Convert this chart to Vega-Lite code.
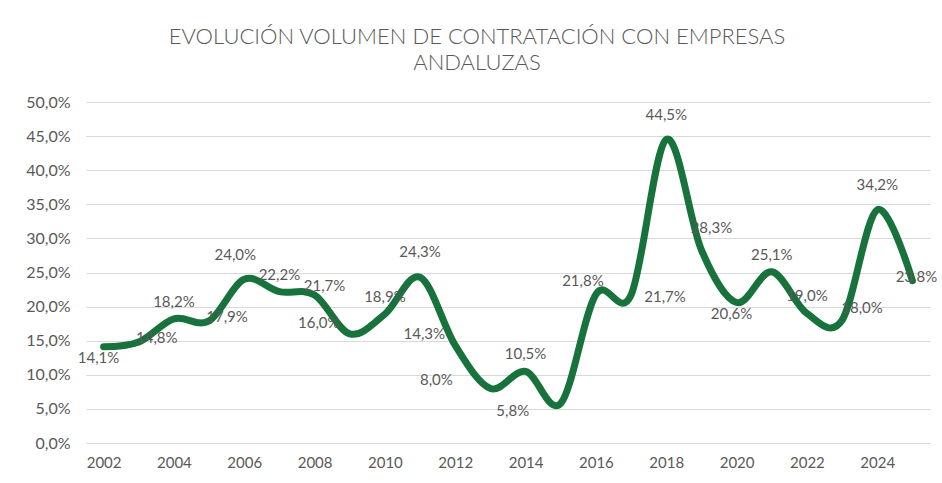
{
  "$schema": "https://vega.github.io/schema/vega-lite/v6.json",
  "width": 844,
  "height": 341,
  "autosize": {"type": "none"},
  "padding": {"left": 86, "top": 102, "right": 12, "bottom": 40},
  "background": "white",
  "config": {
    "locale": {"number": {"decimal": ",", "thousands": ".", "grouping": [3], "currency": ["", " €"]}},
    "view": {"stroke": null},
    "font": "Lato",
    "text": {"font": "Lato", "fontSize": 15, "color": "#595959", "align": "center", "baseline": "middle"}
  },
  "title": {
    "text": ["EVOLUCIÓN VOLUMEN DE CONTRATACIÓN CON EMPRESAS", "ANDALUZAS"],
    "font": "Lato",
    "fontSize": 22,
    "fontWeight": 300,
    "color": "#595959",
    "anchor": "middle",
    "dx": -31,
    "offset": 19,
    "lineHeight": 26
  },
  "data": {"values": [
    {"year": 2002, "value": 0.141},
    {"year": 2003, "value": 0.148},
    {"year": 2004, "value": 0.182},
    {"year": 2005, "value": 0.179},
    {"year": 2006, "value": 0.240},
    {"year": 2007, "value": 0.222},
    {"year": 2008, "value": 0.217},
    {"year": 2009, "value": 0.160},
    {"year": 2010, "value": 0.189},
    {"year": 2011, "value": 0.243},
    {"year": 2012, "value": 0.143},
    {"year": 2013, "value": 0.080},
    {"year": 2014, "value": 0.105},
    {"year": 2015, "value": 0.058},
    {"year": 2016, "value": 0.218},
    {"year": 2017, "value": 0.217},
    {"year": 2018, "value": 0.445},
    {"year": 2019, "value": 0.283},
    {"year": 2020, "value": 0.206},
    {"year": 2021, "value": 0.251},
    {"year": 2022, "value": 0.190},
    {"year": 2023, "value": 0.180},
    {"year": 2024, "value": 0.342},
    {"year": 2025, "value": 0.238}
  ]},
  "encoding": {
    "x": {
      "field": "year", "type": "quantitative",
      "scale": {"domain": [2001.5, 2025.5], "nice": false, "zero": false},
      "axis": {
        "title": null, "values": [2002, 2004, 2006, 2008, 2010, 2012, 2014, 2016, 2018, 2020, 2022, 2024],
        "format": "d", "grid": false, "domain": false, "ticks": false,
        "labelFont": "Lato", "labelFontSize": 15, "labelColor": "#595959", "labelPadding": 12
      }
    },
    "y": {
      "field": "value", "type": "quantitative",
      "scale": {"domain": [0, 0.5], "nice": false},
      "axis": {
        "title": null, "values": [0, 0.05, 0.1, 0.15, 0.2, 0.25, 0.3, 0.35, 0.4, 0.45, 0.5],
        "format": ".1%", "grid": true, "gridColor": "#d9d9d9", "gridWidth": 1,
        "domain": false, "ticks": false,
        "labelFont": "Lato", "labelFontSize": 16, "labelColor": "#595959", "labelPadding": 16
      }
    },
    "text": {"field": "value", "type": "quantitative", "format": ".1%"}
  },
  "layer": [
    {"mark": {"type": "line", "interpolate": "cardinal", "color": "#17733b", "strokeWidth": 7, "strokeCap": "round", "strokeJoin": "round"}, "encoding": {"text": null}},
    {"transform": [{"filter": {"field": "year", "oneOf": [2011, 2018, 2024]}}], "mark": {"type": "text", "dy": -25}},
    {"transform": [{"filter": {"field": "year", "oneOf": [2006]}}], "mark": {"type": "text", "dx": -9, "dy": -24}},
    {"transform": [{"filter": {"field": "year", "oneOf": [2004, 2007, 2010, 2014, 2021, 2022]}}], "mark": {"type": "text", "dy": -17}},
    {"transform": [{"filter": {"field": "year", "oneOf": [2003, 2005]}}], "mark": {"type": "text", "dx": 18, "dy": -4}},
    {"transform": [{"filter": {"field": "year", "oneOf": [2008]}}], "mark": {"type": "text", "dx": 10, "dy": -9}},
    {"transform": [{"filter": {"field": "year", "oneOf": [2023]}}], "mark": {"type": "text", "dx": 20, "dy": -12}},
    {"transform": [{"filter": {"field": "year", "oneOf": [2017]}}], "mark": {"type": "text", "dx": 34, "dy": 2}},
    {"transform": [{"filter": {"field": "year", "oneOf": [2019]}}], "mark": {"type": "text", "dx": 10, "dy": -22}},
    {"transform": [{"filter": {"field": "year", "oneOf": [2009, 2012]}}], "mark": {"type": "text", "dx": -31, "dy": -11}},
    {"transform": [{"filter": {"field": "year", "oneOf": [2013]}}], "mark": {"type": "text", "dx": -54, "dy": -8}},
    {"transform": [{"filter": {"field": "year", "oneOf": [2015]}}], "mark": {"type": "text", "dx": -48, "dy": 8}},
    {"transform": [{"filter": {"field": "year", "oneOf": [2002, 2020]}}], "mark": {"type": "text", "dx": -5, "dy": 11}},
    {"transform": [{"filter": {"field": "year", "oneOf": [2016]}}], "mark": {"type": "text", "dx": -13, "dy": -13}},
    {"transform": [{"filter": {"field": "year", "oneOf": [2025]}}], "mark": {"type": "text", "dx": 4, "dy": -4}}
  ]
}
